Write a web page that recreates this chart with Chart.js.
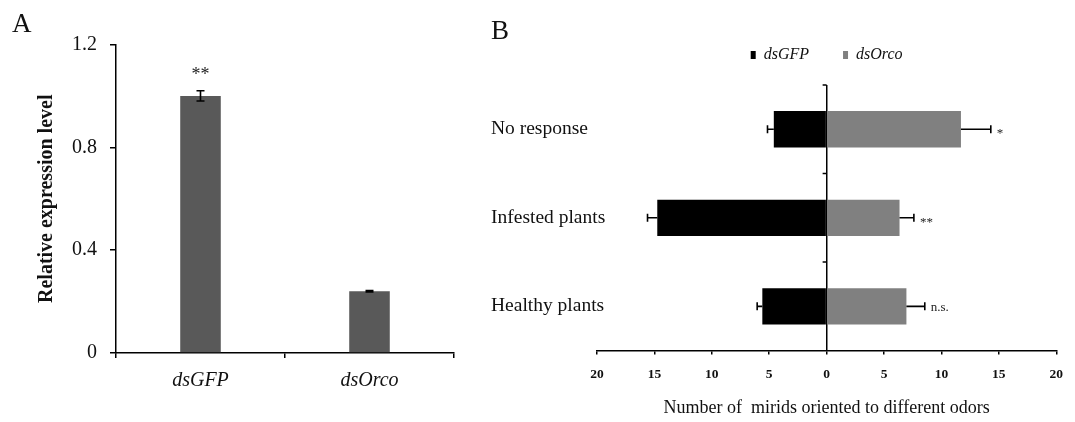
<!DOCTYPE html>
<html>
<head>
<meta charset="utf-8">
<script src="https://cdn.jsdelivr.net/npm/chart.js@4"></script>
<style>
html,body{margin:0;padding:0;background:#fff;}
body{width:1075px;height:422px;position:relative;overflow:hidden;font-family:'Liberation Serif',serif;}
#wrapA{position:absolute;left:0;top:0;width:470px;height:422px;}
#wrapB{position:absolute;left:470px;top:0;width:605px;height:422px;}
.panel{position:absolute;font-family:'Liberation Serif',serif;font-size:27px;line-height:27px;color:#111;}
</style>
</head>
<body>
<div id="wrapA"><canvas id="cA" width="470" height="422"></canvas></div>
<div id="wrapB"><canvas id="cB" width="605" height="422"></canvas></div>
<div class="panel" style="left:12px;top:10px">A</div>
<div class="panel" style="left:491px;top:17px">B</div>
<script>
// ---------- Panel A data ----------
const catsA = ['dsGFP', 'dsOrco'];
const valsA = [1.0, 0.24];
const errA = [0.02, 0.003];
const sigA = ['**', ''];
const ticksA = [0, 0.4, 0.8, 1.2];

// ---------- Panel B data ----------
const catsB = ['No response', 'Infested plants', 'Healthy plants'];
const seriesB = ['dsGFP', 'dsOrco'];
const gfpB = [-4.6, -14.75, -5.6];
const orcoB = [11.7, 6.35, 6.95];
const errGfpB = [0.55, 0.85, 0.45];
const errOrcoB = [2.6, 1.25, 1.6];
const sigB = ['*', '**', 'n.s.'];
const ticksB = [-20, -15, -10, -5, 0, 5, 10, 15, 20];

const FAM = "'Liberation Serif', 'Times New Roman', serif";

const errPlugin = {
  id: 'errbars',
  afterDatasetsDraw(chart) {
    const ctx = chart.ctx;
    const horiz = chart.options.indexAxis === 'y';
    const vs = horiz ? chart.scales.x : chart.scales.y;
    chart.data.datasets.forEach((ds, di) => {
      if (!ds.errs) return;
      const meta = chart.getDatasetMeta(di);
      meta.data.forEach((bar, i) => {
        const v = ds.data[i], e = ds.errs[i];
        const s = Math.sign(v) || 1;
        const end = vs.getPixelForValue(v + s * e);
        ctx.save();
        ctx.strokeStyle = '#000';
        ctx.lineWidth = 1.6;
        ctx.beginPath();
        if (horiz) {
          ctx.moveTo(bar.x, bar.y); ctx.lineTo(end, bar.y);
          ctx.moveTo(end, bar.y - 4); ctx.lineTo(end, bar.y + 4);
        } else {
          const lo = vs.getPixelForValue(v - s * e);
          ctx.moveTo(bar.x, lo); ctx.lineTo(bar.x, end);
          ctx.moveTo(bar.x - 4, end); ctx.lineTo(bar.x + 4, end);
          ctx.moveTo(bar.x - 4, lo); ctx.lineTo(bar.x + 4, lo);
        }
        ctx.stroke();
        const sig = ds.sigs && ds.sigs[i];
        if (sig) {
          ctx.fillStyle = '#222';
          ctx.textBaseline = 'alphabetic';
          if (horiz) {
            ctx.font = '13px ' + FAM;
            ctx.textAlign = 'left';
            const dy = sig.indexOf('*') >= 0 ? 8 : 5;
            ctx.fillText(sig, end + 6 * s, bar.y + dy);
          } else {
            ctx.font = '18px ' + FAM;
            ctx.textAlign = 'center';
            ctx.fillText(sig, bar.x, end - 11);
          }
        }
        ctx.restore();
      });
    });
  }
};

// small ticks on the zero line and left-aligned category labels (panel B)
const catAxisB = {
  id: 'catAxisB',
  afterDraw(chart) {
    const ctx = chart.ctx;
    const x0 = chart.scales.x.getPixelForValue(0);
    const ys = chart.scales.y;
    ctx.save();
    ctx.strokeStyle = '#000';
    ctx.lineWidth = 1.5;
    ctx.beginPath();
    for (let i = 0; i < catsB.length; i++) {
      const y = i === 0 ? ys.top : (ys.getPixelForValue(i - 1) + ys.getPixelForValue(i)) / 2;
      ctx.moveTo(x0 - 4, y); ctx.lineTo(x0, y);
    }
    ctx.stroke();
    ctx.fillStyle = '#111';
    ctx.font = '19.5px ' + FAM;
    ctx.textAlign = 'left';
    ctx.textBaseline = 'middle';
    chart.data.labels.forEach((lab, i) => {
      ctx.fillText(lab, ys.left, ys.getPixelForValue(i));
    });
    ctx.restore();
  }
};

new Chart(document.getElementById('cA'), {
  type: 'bar',
  data: {
    labels: catsA,
    datasets: [{
      data: valsA, errs: errA, sigs: sigA,
      backgroundColor: '#595959', borderWidth: 0,
      categoryPercentage: 1, barPercentage: 0.24
    }]
  },
  options: {
    responsive: false, animation: false,
    layout: { padding: { left: 12, right: 16, top: 44.5, bottom: 18 } },
    plugins: { legend: { display: false }, tooltip: { enabled: false } },
    scales: {
      x: {
        type: 'category',
        border: { color: '#000', width: 1.5 },
        grid: { offset: true, drawOnChartArea: false, tickLength: 5, color: '#000', lineWidth: 1.5 },
        ticks: { font: { family: FAM, size: 20, style: 'italic' }, color: '#111', padding: 11 }
      },
      y: {
        min: 0, max: 1.2,
        afterBuildTicks: s => { s.ticks = ticksA.map(v => ({ value: v })); },
        border: { color: '#000', width: 1.5 },
        grid: { drawOnChartArea: false, tickLength: 6, color: '#000', lineWidth: 1.5 },
        ticks: { font: { family: FAM, size: 20 }, color: '#111', padding: 13,
                 callback: v => v === 0 ? '0' : v.toFixed(1) },
        title: { display: true, text: 'Relative expression level', color: '#111',
                 font: { family: FAM, size: 20, weight: 'bold' }, padding: { top: 23, bottom: 0 } },
        afterFit: s => { s.width = 104; }
      }
    }
  },
  plugins: [errPlugin]
});

new Chart(document.getElementById('cB'), {
  type: 'bar',
  data: {
    labels: catsB,
    datasets: [
      { label: seriesB[0], data: gfpB, errs: errGfpB, backgroundColor: '#000000', borderWidth: 0,
        categoryPercentage: 1, barPercentage: 0.41 },
      { label: seriesB[1], data: orcoB, errs: errOrcoB, sigs: sigB, backgroundColor: '#808080', borderWidth: 0,
        categoryPercentage: 1, barPercentage: 0.41 }
    ]
  },
  options: {
    indexAxis: 'y', responsive: false, animation: false,
    layout: { padding: { left: 21, right: 18, top: 13, bottom: 2.6 } },
    plugins: {
      legend: { display: true, position: 'top', fullSize: false,
        labels: { boxWidth: 5, boxHeight: 8, padding: 34, color: '#111',
                  font: { family: FAM, size: 16, style: 'italic' } } },
      subtitle: { display: true, text: '', weight: 500, fullSize: false, position: 'top',
                  font: { size: 1, lineHeight: 1 }, padding: { top: 0, bottom: 11 } },
      tooltip: { enabled: false }
    },
    scales: {
      x: {
        type: 'linear', min: -20, max: 20, stacked: true, z: 1,
        afterBuildTicks: s => { s.ticks = ticksB.map(v => ({ value: v })); },
        border: { color: '#000', width: 1.5 },
        grid: { drawOnChartArea: true,
                color: c => (c.tick && c.tick.value === 0) ? '#000' : 'rgba(0,0,0,0)',
                lineWidth: 1.5, tickColor: '#000', tickLength: 4, tickWidth: 1.5 },
        ticks: { font: { family: FAM, size: 13.5, weight: 'bold' }, color: '#111', padding: 12,
                 callback: v => String(Math.abs(v)) },
        title: { display: true, text: 'Number of  mirids oriented to different odors', color: '#111',
                 font: { family: FAM, size: 18 }, padding: { top: 3, bottom: 0 } }
      },
      y: {
        type: 'category', stacked: true, offset: true,
        border: { display: false }, grid: { display: false },
        ticks: { display: false },
        afterFit: s => { s.width = 106; }
      }
    }
  },
  plugins: [errPlugin, catAxisB]
});
</script>
</body>
</html>
